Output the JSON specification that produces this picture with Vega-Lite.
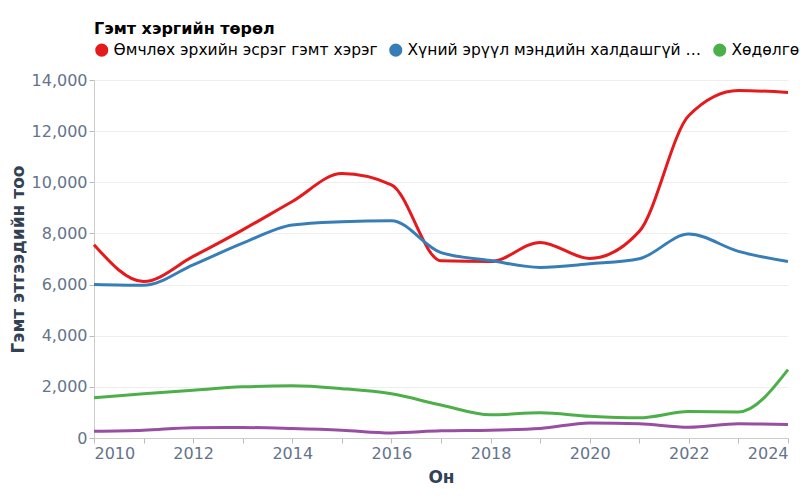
{
  "$schema": "https://vega.github.io/schema/vega-lite/v6.json",
  "width": 694,
  "height": 358,
  "autosize": {"type": "none"},
  "padding": {"left": 94, "top": 80, "right": 12, "bottom": 62},
  "config": {
    "font": "DejaVu Sans",
    "view": {"stroke": null},
    "axis": {
      "labelFontSize": 16,
      "labelColor": "#64748b",
      "titleFontSize": 17,
      "titleColor": "#334155",
      "titleFontWeight": "bold",
      "gridColor": "#eeeeee",
      "domainColor": "#cccccc",
      "tickColor": "#bbbbbb"
    },
    "legend": {
      "titleFontSize": 16,
      "titleColor": "#000000",
      "titleLimit": 500,
      "labelFontSize": 15.5,
      "labelColor": "#000000"
    }
  },
  "data": {
    "values": [
      {"Он": 2010, "Төрөл": "Өмчлөх эрхийн эсрэг гэмт хэрэг", "Тоо": 7560},
      {"Он": 2011, "Төрөл": "Өмчлөх эрхийн эсрэг гэмт хэрэг", "Тоо": 6120},
      {"Он": 2012, "Төрөл": "Өмчлөх эрхийн эсрэг гэмт хэрэг", "Тоо": 7100},
      {"Он": 2013, "Төрөл": "Өмчлөх эрхийн эсрэг гэмт хэрэг", "Тоо": 8140},
      {"Он": 2014, "Төрөл": "Өмчлөх эрхийн эсрэг гэмт хэрэг", "Тоо": 9250},
      {"Он": 2015, "Төрөл": "Өмчлөх эрхийн эсрэг гэмт хэрэг", "Тоо": 10340},
      {"Он": 2016, "Төрөл": "Өмчлөх эрхийн эсрэг гэмт хэрэг", "Тоо": 9900},
      {"Он": 2017, "Төрөл": "Өмчлөх эрхийн эсрэг гэмт хэрэг", "Тоо": 6930},
      {"Он": 2018, "Төрөл": "Өмчлөх эрхийн эсрэг гэмт хэрэг", "Тоо": 6900},
      {"Он": 2019, "Төрөл": "Өмчлөх эрхийн эсрэг гэмт хэрэг", "Тоо": 7650},
      {"Он": 2020, "Төрөл": "Өмчлөх эрхийн эсрэг гэмт хэрэг", "Тоо": 7020},
      {"Он": 2021, "Төрөл": "Өмчлөх эрхийн эсрэг гэмт хэрэг", "Тоо": 8080},
      {"Он": 2022, "Төрөл": "Өмчлөх эрхийн эсрэг гэмт хэрэг", "Тоо": 12610},
      {"Он": 2023, "Төрөл": "Өмчлөх эрхийн эсрэг гэмт хэрэг", "Тоо": 13590},
      {"Он": 2024, "Төрөл": "Өмчлөх эрхийн эсрэг гэмт хэрэг", "Тоо": 13510},
      {"Он": 2010, "Төрөл": "Хүний эрүүл мэндийн халдашгүй байдлын эсрэг гэмт хэрэг", "Тоо": 6000},
      {"Он": 2011, "Төрөл": "Хүний эрүүл мэндийн халдашгүй байдлын эсрэг гэмт хэрэг", "Тоо": 5970},
      {"Он": 2012, "Төрөл": "Хүний эрүүл мэндийн халдашгүй байдлын эсрэг гэмт хэрэг", "Тоо": 6770},
      {"Он": 2013, "Төрөл": "Хүний эрүүл мэндийн халдашгүй байдлын эсрэг гэмт хэрэг", "Тоо": 7620},
      {"Он": 2014, "Төрөл": "Хүний эрүүл мэндийн халдашгүй байдлын эсрэг гэмт хэрэг", "Тоо": 8330},
      {"Он": 2015, "Төрөл": "Хүний эрүүл мэндийн халдашгүй байдлын эсрэг гэмт хэрэг", "Тоо": 8460},
      {"Он": 2016, "Төрөл": "Хүний эрүүл мэндийн халдашгүй байдлын эсрэг гэмт хэрэг", "Тоо": 8500},
      {"Он": 2017, "Төрөл": "Хүний эрүүл мэндийн халдашгүй байдлын эсрэг гэмт хэрэг", "Тоо": 7250},
      {"Он": 2018, "Төрөл": "Хүний эрүүл мэндийн халдашгүй байдлын эсрэг гэмт хэрэг", "Тоо": 6940},
      {"Он": 2019, "Төрөл": "Хүний эрүүл мэндийн халдашгүй байдлын эсрэг гэмт хэрэг", "Тоо": 6670},
      {"Он": 2020, "Төрөл": "Хүний эрүүл мэндийн халдашгүй байдлын эсрэг гэмт хэрэг", "Тоо": 6810},
      {"Он": 2021, "Төрөл": "Хүний эрүүл мэндийн халдашгүй байдлын эсрэг гэмт хэрэг", "Тоо": 7010},
      {"Он": 2022, "Төрөл": "Хүний эрүүл мэндийн халдашгүй байдлын эсрэг гэмт хэрэг", "Тоо": 7975},
      {"Он": 2023, "Төрөл": "Хүний эрүүл мэндийн халдашгүй байдлын эсрэг гэмт хэрэг", "Тоо": 7300},
      {"Он": 2024, "Төрөл": "Хүний эрүүл мэндийн халдашгүй байдлын эсрэг гэмт хэрэг", "Тоо": 6900},
      {"Он": 2010, "Төрөл": "Хөдөлгөөний аюулгүй байдлын эсрэг гэмт хэрэг", "Тоо": 1570},
      {"Он": 2011, "Төрөл": "Хөдөлгөөний аюулгүй байдлын эсрэг гэмт хэрэг", "Тоо": 1727},
      {"Он": 2012, "Төрөл": "Хөдөлгөөний аюулгүй байдлын эсрэг гэмт хэрэг", "Тоо": 1870},
      {"Он": 2013, "Төрөл": "Хөдөлгөөний аюулгүй байдлын эсрэг гэмт хэрэг", "Тоо": 2000},
      {"Он": 2014, "Төрөл": "Хөдөлгөөний аюулгүй байдлын эсрэг гэмт хэрэг", "Тоо": 2040},
      {"Он": 2015, "Төрөл": "Хөдөлгөөний аюулгүй байдлын эсрэг гэмт хэрэг", "Тоо": 1930},
      {"Он": 2016, "Төрөл": "Хөдөлгөөний аюулгүй байдлын эсрэг гэмт хэрэг", "Тоо": 1727},
      {"Он": 2017, "Төрөл": "Хөдөлгөөний аюулгүй байдлын эсрэг гэмт хэрэг", "Тоо": 1290},
      {"Он": 2018, "Төрөл": "Хөдөлгөөний аюулгүй байдлын эсрэг гэмт хэрэг", "Тоо": 905},
      {"Он": 2019, "Төрөл": "Хөдөлгөөний аюулгүй байдлын эсрэг гэмт хэрэг", "Тоо": 985},
      {"Он": 2020, "Төрөл": "Хөдөлгөөний аюулгүй байдлын эсрэг гэмт хэрэг", "Тоо": 850},
      {"Он": 2021, "Төрөл": "Хөдөлгөөний аюулгүй байдлын эсрэг гэмт хэрэг", "Тоо": 790},
      {"Он": 2022, "Төрөл": "Хөдөлгөөний аюулгүй байдлын эсрэг гэмт хэрэг", "Тоо": 1035},
      {"Он": 2023, "Төрөл": "Хөдөлгөөний аюулгүй байдлын эсрэг гэмт хэрэг", "Тоо": 1020},
      {"Он": 2024, "Төрөл": "Хөдөлгөөний аюулгүй байдлын эсрэг гэмт хэрэг", "Тоо": 2675},
      {"Он": 2010, "Төрөл": "Хүний амь насны эсрэг гэмт хэрэг", "Тоо": 265},
      {"Он": 2011, "Төрөл": "Хүний амь насны эсрэг гэмт хэрэг", "Тоо": 305},
      {"Он": 2012, "Төрөл": "Хүний амь насны эсрэг гэмт хэрэг", "Тоо": 400},
      {"Он": 2013, "Төрөл": "Хүний амь насны эсрэг гэмт хэрэг", "Тоо": 410},
      {"Он": 2014, "Төрөл": "Хүний амь насны эсрэг гэмт хэрэг", "Тоо": 370},
      {"Он": 2015, "Төрөл": "Хүний амь насны эсрэг гэмт хэрэг", "Тоо": 305},
      {"Он": 2016, "Төрөл": "Хүний амь насны эсрэг гэмт хэрэг", "Тоо": 200},
      {"Он": 2017, "Төрөл": "Хүний амь насны эсрэг гэмт хэрэг", "Тоо": 280},
      {"Он": 2018, "Төрөл": "Хүний амь насны эсрэг гэмт хэрэг", "Тоо": 305},
      {"Он": 2019, "Төрөл": "Хүний амь насны эсрэг гэмт хэрэг", "Тоо": 370},
      {"Он": 2020, "Төрөл": "Хүний амь насны эсрэг гэмт хэрэг", "Тоо": 590},
      {"Он": 2021, "Төрөл": "Хүний амь насны эсрэг гэмт хэрэг", "Тоо": 555},
      {"Он": 2022, "Төрөл": "Хүний амь насны эсрэг гэмт хэрэг", "Тоо": 420},
      {"Он": 2023, "Төрөл": "Хүний амь насны эсрэг гэмт хэрэг", "Тоо": 555},
      {"Он": 2024, "Төрөл": "Хүний амь насны эсрэг гэмт хэрэг", "Тоо": 530}
    ]
  },
  "mark": {"type": "line", "interpolate": "monotone", "strokeWidth": 3},
  "encoding": {
    "x": {
      "field": "Он",
      "type": "quantitative",
      "title": "Он",
      "scale": {"domain": [2010, 2024], "zero": false, "nice": false},
      "axis": {
        "tickCount": 14,
        "format": "d",
        "grid": false,
        "labelFlush": true,
        "labelOverlap": false,
        "titlePadding": 8,
        "labelExpr": "datum.value % 2 == 0 ? datum.label : ''"
      }
    },
    "y": {
      "field": "Тоо",
      "type": "quantitative",
      "title": "Гэмт этгээдийн тоо",
      "scale": {"domain": [0, 14000]},
      "axis": {"tickCount": 7}
    },
    "color": {
      "field": "Төрөл",
      "type": "nominal",
      "title": "Гэмт хэргийн төрөл",
      "scale": {
        "domain": [
          "Өмчлөх эрхийн эсрэг гэмт хэрэг",
          "Хүний эрүүл мэндийн халдашгүй байдлын эсрэг гэмт хэрэг",
          "Хөдөлгөөний аюулгүй байдлын эсрэг гэмт хэрэг",
          "Хүний амь насны эсрэг гэмт хэрэг"
        ],
        "range": ["#e41a1c", "#377eb8", "#4daf4a", "#984ea3"]
      },
      "legend": {
        "orient": "top",
        "direction": "horizontal",
        "symbolType": "circle",
        "symbolSize": 170,
        "labelLimit": 296,
        "offset": 21,
        "encode": {
          "symbols": {
            "update": {
              "fill": {"scale": "color", "field": "value"},
              "fillOpacity": {"value": 1},
              "strokeWidth": {"value": 0}
            }
          }
        }
      }
    }
  }
}
